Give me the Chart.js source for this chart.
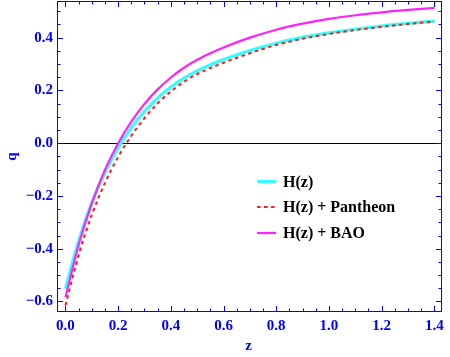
<!DOCTYPE html>
<html>
<head>
<meta charset="utf-8">
<script src="https://cdn.jsdelivr.net/npm/chart.js@4.4.1/dist/chart.umd.min.js"></script>
<style>
    body { margin: 0; background: #fff; }
    #wrap { width: 450px; height: 357px; }
</style>
</head>
<body>
<div id="wrap"><canvas id="qChart" width="450" height="357"></canvas></div>
<script>
// redshift grid and deceleration parameter q(z)
const zVals = [0, 0.05, 0.1, 0.15, 0.2, 0.25, 0.3, 0.35, 0.4, 0.45, 0.5, 0.55, 0.6, 0.7, 0.8, 0.9, 1.0, 1.1, 1.2, 1.3, 1.4];
const qHz = [-0.552, -0.371, -0.226, -0.11, -0.017, 0.059, 0.121, 0.172, 0.213, 0.247, 0.274, 0.297, 0.317, 0.351, 0.379, 0.401, 0.418, 0.432, 0.444, 0.454, 0.463];
const qPantheon = [-0.615, -0.424, -0.272, -0.15, -0.052, 0.028, 0.095, 0.151, 0.196, 0.233, 0.262, 0.285, 0.305, 0.341, 0.372, 0.396, 0.414, 0.429, 0.441, 0.452, 0.461];
const qBAO = [-0.584, -0.386, -0.228, -0.101, 0.0, 0.082, 0.149, 0.204, 0.249, 0.286, 0.316, 0.341, 0.363, 0.4, 0.43, 0.453, 0.471, 0.485, 0.496, 0.505, 0.513];

const seriesLabels = ['H(z)', 'H(z) + Pantheon', 'H(z) + BAO'];
const xTicks = [0, 0.2, 0.4, 0.6, 0.8, 1.0, 1.2, 1.4];
const yTicks = [-0.6, -0.4, -0.2, 0.0, 0.2, 0.4];

const axisBlue = '#0000ff';
const serif = '"Liberation Serif", "Times New Roman", serif';

const toPoints = (ys) => ys.map((y, i) => ({ x: zVals[i], y: y }));
const fmt = (v) => (v < -1e-9 ? '\u2212' : '') + Math.abs(v).toFixed(1);

// frame, inward ticks (major + minor), zero line, titles, legend
const framePlugin = {
    id: 'mmaFrame',
    beforeDatasetsDraw(chart) {
        const { ctx, chartArea: a, scales } = chart;
        const y0 = scales.y.getPixelForValue(0);
        ctx.save();
        ctx.strokeStyle = '#000';
        ctx.lineWidth = 1;
        ctx.beginPath();
        ctx.moveTo(a.left, Math.round(y0) + 0.5);
        ctx.lineTo(a.right, Math.round(y0) + 0.5);
        ctx.stroke();
        ctx.restore();
    },
    afterDraw(chart) {
        const { ctx, chartArea: a, scales } = chart;
        const xs = scales.x, ys = scales.y;
        ctx.save();
        ctx.strokeStyle = axisBlue;
        ctx.lineWidth = 1;
        ctx.strokeRect(a.left + 0.5, a.top + 0.5, a.right - a.left - 1, a.bottom - a.top - 1);

        ctx.beginPath();
        for (let k = 0; k <= 28; k++) {
            const v = k * 0.05;
            const len = k % 4 === 0 ? 6 : 3.5;
            const px = Math.round(xs.getPixelForValue(v)) + 0.5;
            ctx.moveTo(px, a.bottom); ctx.lineTo(px, a.bottom - len);
            ctx.moveTo(px, a.top); ctx.lineTo(px, a.top + len);
        }
        for (let k = -12; k <= 10; k++) {
            const v = k * 0.05;
            const len = k % 4 === 0 ? 6 : 3.5;
            const py = Math.round(ys.getPixelForValue(v)) + 0.5;
            ctx.moveTo(a.left, py); ctx.lineTo(a.left + len, py);
            ctx.moveTo(a.right, py); ctx.lineTo(a.right - len, py);
        }
        ctx.stroke();

        // axis titles
        ctx.fillStyle = axisBlue;
        ctx.font = 'bold 15px ' + serif;
        ctx.textAlign = 'center';
        ctx.textBaseline = 'middle';
        ctx.fillText('z', (a.left + a.right) / 2 - 1, 346);
        ctx.translate(12, (a.top + a.bottom) / 2);
        ctx.rotate(-Math.PI / 2);
        ctx.fillText('q', 0, 0);
        ctx.restore();

        // legend
        ctx.save();
        ctx.font = 'bold 16px ' + serif;
        ctx.textAlign = 'left';
        ctx.textBaseline = 'middle';
        const rows = [181.5, 207, 233];
        chart.data.datasets.forEach((ds, i) => {
            const y = rows[i];
            ctx.strokeStyle = ds.borderColor;
            ctx.lineWidth = ds.borderWidth;
            ctx.setLineDash(ds.borderDash || []);
            ctx.beginPath();
            ctx.moveTo(257, y);
            ctx.lineTo(276, y);
            ctx.stroke();
            ctx.setLineDash([]);
            ctx.fillStyle = '#000';
            ctx.fillText(ds.label, 283, y + 1);
        });
        ctx.restore();
    }
};

new Chart(document.getElementById('qChart'), {
    type: 'line',
    data: {
        datasets: [
            {
                label: seriesLabels[0],
                data: toPoints(qHz),
                borderColor: '#33ffff',
                borderWidth: 3.2,
                pointRadius: 0,
                cubicInterpolationMode: 'monotone',
                order: 3
            },
            {
                label: seriesLabels[1],
                data: toPoints(qPantheon),
                borderColor: '#ff1a1a',
                borderWidth: 2,
                borderDash: [3.5, 3.5],
                pointRadius: 0,
                cubicInterpolationMode: 'monotone',
                order: 2
            },
            {
                label: seriesLabels[2],
                data: toPoints(qBAO),
                borderColor: '#ff22ff',
                borderWidth: 2.2,
                pointRadius: 0,
                cubicInterpolationMode: 'monotone',
                order: 1
            }
        ]
    },
    options: {
        responsive: false,
        animation: false,
        events: [],
        layout: { padding: { top: 1, right: 8, left: 0, bottom: 0 } },
        plugins: {
            legend: { display: false },
            tooltip: { enabled: false }
        },
        scales: {
            x: {
                type: 'linear',
                min: -0.032,
                max: 1.429,
                grid: { display: false, drawTicks: false },
                border: { display: false },
                afterBuildTicks: (s) => { s.ticks = xTicks.map(v => ({ value: v })); },
                afterFit: (s) => { s.height = 45; s.paddingLeft = 0; s.paddingRight = 0; },
                ticks: {
                    autoSkip: false,
                    maxRotation: 0,
                    padding: 5,
                    color: axisBlue,
                    font: { family: serif, size: 15, weight: 'bold' },
                    callback: (v) => fmt(v)
                }
            },
            y: {
                type: 'linear',
                min: -0.640,
                max: 0.539,
                grid: { display: false, drawTicks: false },
                border: { display: false },
                afterBuildTicks: (s) => { s.ticks = yTicks.map(v => ({ value: v })); },
                afterFit: (s) => { s.width = 57; s.paddingTop = 0; s.paddingBottom = 0; },
                ticks: {
                    autoSkip: false,
                    padding: 4,
                    color: axisBlue,
                    font: { family: serif, size: 15, weight: 'bold' },
                    callback: (v) => fmt(v)
                }
            }
        }
    },
    plugins: [framePlugin]
});
</script>
</body>
</html>
